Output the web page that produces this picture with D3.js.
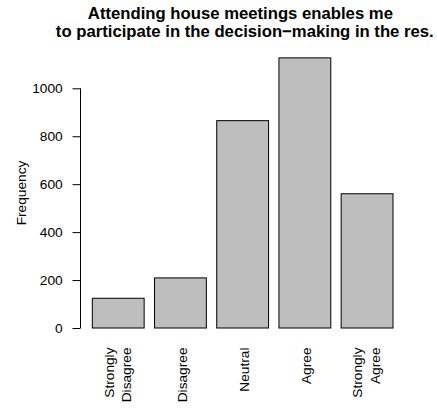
<!DOCTYPE html>
<html><head><meta charset="utf-8">
<script src="https://cdn.jsdelivr.net/npm/d3@7"></script>
<style>body{margin:0;background:#fff}</style>
</head><body>
<svg id="c" width="437" height="409"></svg>
<script>
const categories = [["Strongly","Disagree"],["Disagree"],["Neutral"],["Agree"],["Strongly","Agree"]];
const values = [124, 209, 865, 1127, 560];
const yTicks = [0, 200, 400, 600, 800, 1000];
const titleLines = ["Attending house meetings enables me", "to participate in the decision\u2212making in the res."];

const svg = d3.select("#c");
const font = "Liberation Sans, Arial, Helvetica, sans-serif";
const fs = 13.7;
const x = d3.scaleBand().domain(d3.range(values.length)).range([92.3, 393]).paddingInner(1/6).paddingOuter(0);
const y = d3.scaleLinear().domain([0, 1000]).range([328, 88.3]);

svg.selectAll("rect.bar").data(values).enter().append("rect")
  .attr("x", (d,i)=>x(i)).attr("width", x.bandwidth())
  .attr("y", d=>y(d)).attr("height", d=>y(0)-y(d))
  .attr("fill", "#bebebe").attr("stroke", "#000").attr("stroke-width", 1);

const ax = svg.append("g").attr("transform","translate(80.5,0)")
  .call(d3.axisLeft(y).tickValues(yTicks).tickSize(8).tickPadding(9.8).tickFormat(d3.format("d")));
ax.select(".domain").attr("d", `M0,${y(0)}V${y(1000)}`).attr("stroke","#000");
ax.selectAll(".tick line").attr("stroke","#000");
ax.selectAll(".tick text").attr("font-family", font).attr("font-size", fs).attr("fill","#000");

svg.append("text").attr("transform", "translate(26.3,193) rotate(-90)")
  .attr("text-anchor","middle").attr("font-family",font).attr("font-size",fs).text("Frequency");

categories.forEach((lines, i) => {
  const cx = x(i) + x.bandwidth()/2;
  const n = lines.length;
  lines.forEach((t, j) => {
    const off = (j - (n-1)/2) * 17.3 + (n === 1 ? 6.2 : 4);
    svg.append("text")
      .attr("transform", `translate(${cx + off},347.5) rotate(-90)`)
      .attr("text-anchor","end").attr("font-family",font).attr("font-size",fs).text(t);
  });
});

const titleX = [240.4, 244.8];
titleLines.forEach((t, j) => {
  svg.append("text").attr("x", titleX[j]).attr("y", 19.2 + j*17.6)
    .attr("text-anchor","middle").attr("font-family",font).attr("font-weight","bold")
    .attr("font-size",16.7).text(t);
});
</script>
</body></html>
